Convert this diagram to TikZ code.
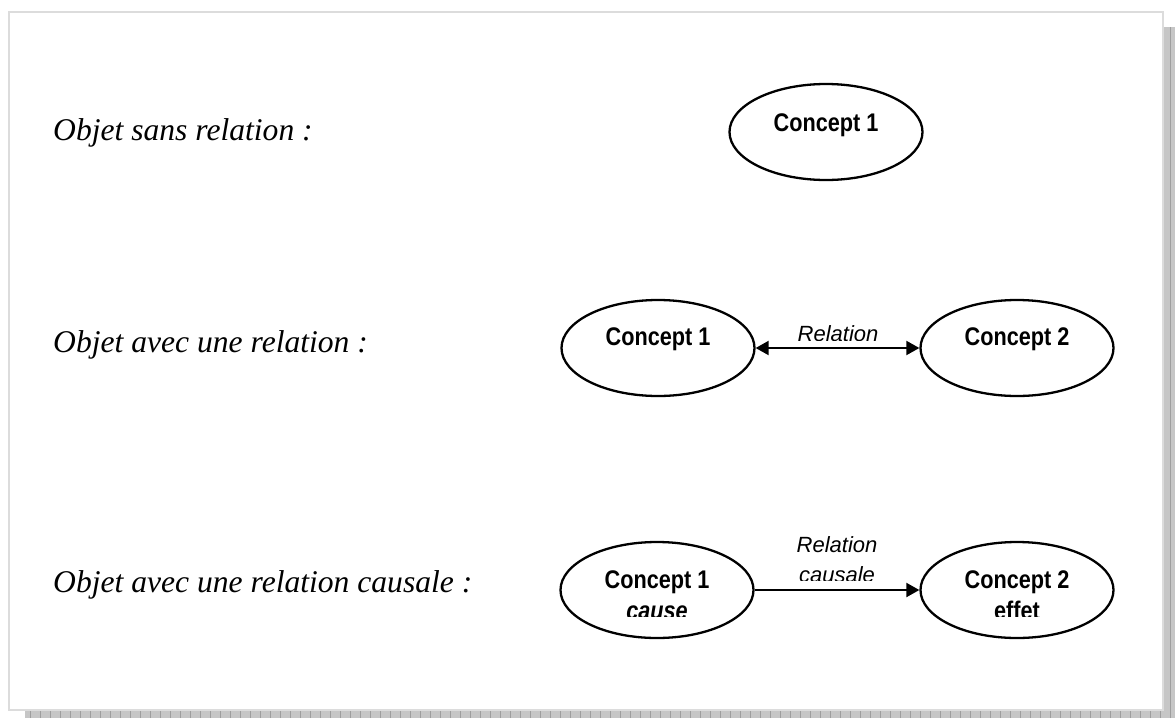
\documentclass[tikz,border=0pt]{standalone}
\usepackage{fontspec}
\setmainfont{Liberation Serif}
\newfontfamily\arialfont{Liberation Sans}
\newfontfamily\narrowfont[FakeStretch=0.85]{Liberation Sans}
\usetikzlibrary{shapes.geometric,arrows.meta}
\definecolor{framegray}{HTML}{DCDCDC}
\definecolor{shadowgray}{HTML}{C6C6C6}
\definecolor{gridgray}{HTML}{9E9E9E}

\begin{document}
\begin{tikzpicture}[x=1pt,y=-1pt,
  concept/.style={draw,ellipse,line width=2.3pt,minimum width=193pt,minimum height=96pt,inner sep=0pt},
  ctext/.style={anchor=base,inner sep=0pt,font=\narrowfont\bfseries\fontsize{25.5}{30}\selectfont},
  reltext/.style={anchor=base,inner sep=0pt,font=\arialfont\itshape\fontsize{22}{26}\selectfont},
  objtext/.style={anchor=base west,inner sep=0pt,font=\itshape\fontsize{31.6}{38}\selectfont},
  fleche/.style={line width=2pt,-{Triangle[length=13pt,width=14pt]}},
  dblfleche/.style={line width=2pt,{Triangle[length=13pt,width=14pt]}-{Triangle[length=13pt,width=14pt]}}]
\useasboundingbox (0,0) rectangle (1175,718);

% ombre et cadre
\fill[shadowgray] (1163,27) rectangle (1175,718);
\fill[shadowgray] (25,710) rectangle (1175,718);
\draw[gridgray,line width=0.6pt,step=10] (1163,27) grid (1175,718);
\draw[gridgray,line width=0.6pt,step=10] (25,710) grid (1175,718);
\draw[framegray,line width=2pt,fill=white] (9,12) rectangle (1163,710);

\node[objtext] (o1) at (53,140) {Objet sans relation :};
\node[objtext] (o2) at (53,352) {Objet avec une relation :};
\node[objtext] (o3) at (53,592) {Objet avec une relation causale :};

% sans relation
\node[concept] (c1) at (826,132) {};
\node[ctext] (c1t) at (826,131) {Concept 1};

% avec une relation
\node[concept] (c21) at (658,348) {};
\node[concept] (c22) at (1017,348) {};
\node[ctext] (c21t) at (658,345) {Concept 1};
\node[ctext] (c22t) at (1017,345) {Concept 2};
\draw[dblfleche] (c21) -- (c22);
\begin{scope}
\clip (760,300) rectangle (920,340);
\node[reltext] (r2) at (838,341) {Relation};
\end{scope}

% relation causale
\node[concept] (c31) at (657,590) {};
\node[concept] (c32) at (1017,590) {};
\node[ctext] (c31t) at (657,588) {Concept 1};
\node[ctext] (c32t) at (1017,588) {Concept 2};
\begin{scope}
\clip (560,595) rectangle (1115,616);
\node[ctext] (c31b) at (657,619) {\itshape cause};
\node[ctext] (c32b) at (1017,619) {effet};
\end{scope}
\draw[fleche] (c31) -- (c32);
\node[reltext] (r3a) at (837,552) {Relation};
\begin{scope}
\clip (760,555) rectangle (920,580);
\node[reltext] (r3b) at (837,582) {causale};
\end{scope}
\end{tikzpicture}
\end{document}
